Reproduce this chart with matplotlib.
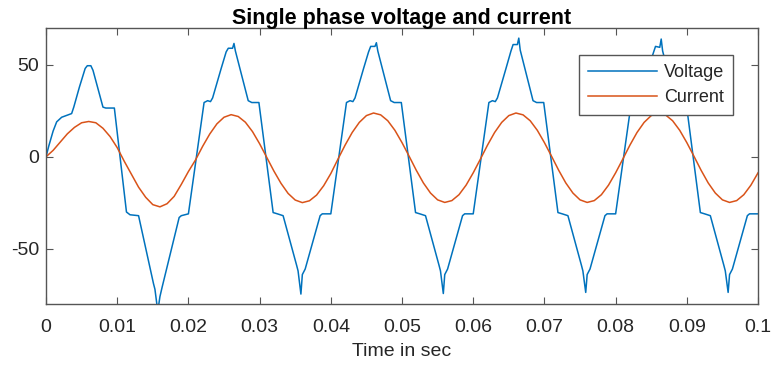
import matplotlib
matplotlib.use("Agg")
import matplotlib.pyplot as plt
import numpy as np

plt.rcParams['font.family'] = ['Liberation Sans', 'DejaVu Sans']

# Inverter output voltage: breakpoints (time in ms, volts)
volt_t_ms = [
    0.0, 0.4, 1.0, 1.5, 2.2, 2.9, 3.6, 3.9, 4.7, 5.5, 5.8, 6.3, 6.6, 8.0, 8.4, 9.6,
    11.3, 11.8, 13.0, 15.1, 15.3, 15.7, 16.0, 16.3, 18.7, 19.0,
    # cycle 2
    20.0, 22.2, 22.7, 23.1, 23.4, 24.6, 25.3, 25.6, 26.2, 26.4, 26.6, 28.4, 28.9, 29.9,
    31.9, 32.5, 33.3, 35.2, 35.4, 35.8, 36.0, 36.4, 38.5, 38.8, 39.6,
    # cycle 3
    40.0, 42.2, 42.7, 43.1, 43.4, 44.6, 45.3, 45.6, 46.2, 46.4, 46.6, 48.4, 48.9, 49.9,
    51.9, 52.5, 53.3, 55.2, 55.4, 55.8, 56.0, 56.4, 58.5, 58.8, 59.6,
    # cycle 4
    60.0, 62.2, 62.7, 63.1, 63.4, 64.6, 65.3, 65.6, 66.2, 66.4, 66.6, 68.4, 68.9, 69.9,
    71.9, 72.5, 73.3, 75.2, 75.4, 75.8, 76.0, 76.4, 78.5, 78.8, 79.6,
    # cycle 5
    80.0, 82.2, 82.7, 83.1, 83.4, 84.6, 85.3, 85.6, 86.2, 86.4, 86.6, 88.4, 88.9, 89.9,
    91.9, 92.5, 93.3, 95.2, 95.4, 95.8, 96.0, 96.4, 98.5, 98.8, 99.6, 100.0,
]
volt_v = [
    0.0, 6.0, 14.0, 19.0, 21.5, 22.5, 23.5, 27.0, 38.0, 48.0, 49.5, 49.5, 47.0, 27.0, 26.5, 26.5,
    -30.0, -31.5, -32.0, -69.0, -72.0, -84.0, -76.0, -71.0, -33.0, -32.0,
    -31.0, 29.5, 30.5, 30.0, 32.0, 48.0, 57.0, 59.0, 59.0, 61.6, 57.5, 30.5, 29.5, 29.5,
    -30.3, -31.0, -32.0, -59.0, -62.0, -74.6, -64.0, -61.0, -32.0, -31.0, -31.0,
    -31.0, 29.5, 30.5, 30.0, 32.0, 48.0, 57.0, 60.0, 60.0, 62.0, 57.5, 30.5, 29.5, 29.5,
    -30.3, -31.0, -32.0, -59.0, -62.0, -74.3, -64.0, -61.0, -32.0, -31.0, -31.0,
    -31.0, 29.5, 30.5, 30.0, 32.0, 48.0, 57.5, 61.0, 61.0, 64.5, 58.0, 30.5, 29.5, 29.5,
    -30.3, -31.0, -32.0, -59.0, -62.0, -73.7, -64.0, -61.0, -32.0, -31.0, -31.0,
    -31.0, 29.5, 30.5, 30.0, 32.0, 48.0, 56.5, 60.0, 59.5, 64.0, 57.5, 30.5, 29.5, 29.5,
    -30.3, -31.0, -32.0, -59.0, -62.0, -73.7, -64.0, -61.0, -32.0, -31.0, -31.0, -31.0,
]

# Load current sampled every 1 ms from 0 to 100 ms (amps)
curr_t_ms = list(range(0, 101))
curr_v = [
    0.0, 3.5, 8.0, 12.5, 16.0, 18.5, 19.2, 18.5, 15.5, 11.0,
    5.0, -2.5, -9.5, -16.5, -22.0, -26.0, -27.2, -25.5, -21.5, -15.0,
    -8.0, -1.7, 5.7, 12.4, 17.9, 21.5, 22.9, 21.9, 18.8, 13.7,
    7.1, -0.3, -7.7, -14.4, -19.9, -23.5, -24.9, -23.9, -20.8, -15.7,
    -9.1, -1.3, 6.3, 13.2, 18.7, 22.4, 23.8, 22.8, 19.6, 14.4,
    7.7, 0.3, -7.3, -14.2, -19.7, -23.4, -24.8, -23.8, -20.6, -15.4,
    -8.7, -1.3, 6.3, 13.2, 18.7, 22.4, 23.8, 22.8, 19.6, 14.4,
    7.7, 0.3, -7.3, -14.2, -19.7, -23.4, -24.8, -23.8, -20.6, -15.4,
    -8.7, -1.3, 6.3, 13.2, 18.7, 22.4, 23.8, 22.8, 19.6, 14.4,
    7.7, 0.3, -7.3, -14.2, -19.7, -23.4, -24.8, -23.8, -20.6, -15.4,
    -8.7,
]

x_ticks = [0, 0.01, 0.02, 0.03, 0.04, 0.05, 0.06, 0.07, 0.08, 0.09, 0.1]
x_tick_labels = ['0', '0.01', '0.02', '0.03', '0.04', '0.05', '0.06', '0.07', '0.08', '0.09', '0.1']
y_ticks = [-50, 0, 50]
y_tick_labels = ['-50', '0', '50']

volt_t = np.array(volt_t_ms) / 1000.0
curr_t = np.array(curr_t_ms) / 1000.0

fig = plt.figure(figsize=(7.81, 3.68), dpi=100)
ax = fig.add_axes([0.0589, 0.1739, 0.9117, 0.75])

ax.plot(volt_t, volt_v, color='#0072BD', lw=1.1, label='Voltage')
ax.plot(curr_t, curr_v, color='#D95319', lw=1.1, label='Current')

ax.set_xlim(0, 0.1)
ax.set_ylim(-80, 70)
ax.set_xticks(x_ticks)
ax.set_xticklabels(x_tick_labels)
ax.set_yticks(y_ticks)
ax.set_yticklabels(y_tick_labels)

axis_col = '#262626'
for sp in ax.spines.values():
    sp.set_color('#555555')
    sp.set_linewidth(1.0)
ax.tick_params(direction='in', length=5, width=0.8, color='#555555',
               labelsize=14, labelcolor=axis_col, top=True, right=True)
ax.tick_params(axis='x', pad=11)
ax.tick_params(axis='y', pad=5)

ax.set_title('Single phase voltage and current', fontsize=15.5, fontweight='bold',
             color='black', pad=3)
ax.set_xlabel('Time in sec', fontsize=14, color=axis_col, labelpad=5)

leg = ax.legend(loc='upper right', bbox_to_anchor=(0.9649, 0.9022), fontsize=13,
                handlelength=3.8, handletextpad=0.4, borderpad=0.5, labelspacing=0.45,
                fancybox=False, framealpha=1.0, edgecolor='#555555', borderaxespad=0)
leg.get_frame().set_linewidth(1.0)
for t in leg.get_texts():
    t.set_color(axis_col)

fig.savefig('out.png', dpi=100)
